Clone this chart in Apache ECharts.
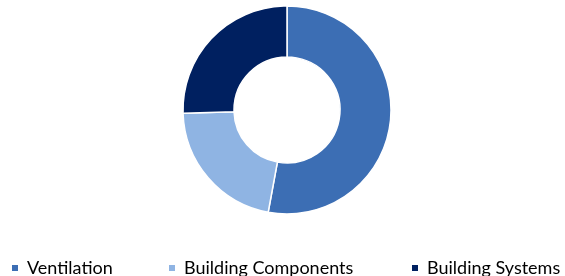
<!DOCTYPE html>
<html>
<head>
<meta charset="utf-8">
<style>
  html, body { margin: 0; padding: 0; background: #fff; }
  #chart { width: 565px; height: 276px; }
</style>
<script src="https://cdn.jsdelivr.net/npm/echarts@6/dist/echarts.min.js"></script>
</head>
<body>
<div id="chart"></div>
<script>
const categories = ['Ventilation', 'Building Components', 'Building Systems'];
const shares = [52.9, 21.6, 25.5];
const colors = ['#3C6EB4', '#8FB4E3', '#002060'];
const legendLeft = [5, 162, 405];

const chart = echarts.init(document.getElementById('chart'));

const legends = categories.map((name, i) => ({
  data: [name],
  left: legendLeft[i],
  top: 254,
  icon: 'rect',
  itemWidth: 8,
  itemHeight: 8,
  itemGap: 0,
  textStyle: {
    fontFamily: 'Lato',
    fontSize: 18,
    color: '#000',
    padding: [0, 0, 0, 3]
  }
}));

chart.setOption({
  animation: false,
  color: colors,
  legend: legends,
  series: [{
    type: 'pie',
    center: [287, 110],
    radius: [53, 104],
    startAngle: 90,
    clockwise: true,
    label: { show: false },
    labelLine: { show: false },
    itemStyle: { borderColor: '#fff', borderWidth: 1.5 },
    emphasis: { disabled: true },
    data: categories.map((name, i) => ({ name, value: shares[i] }))
  }]
});
</script>
</body>
</html>
